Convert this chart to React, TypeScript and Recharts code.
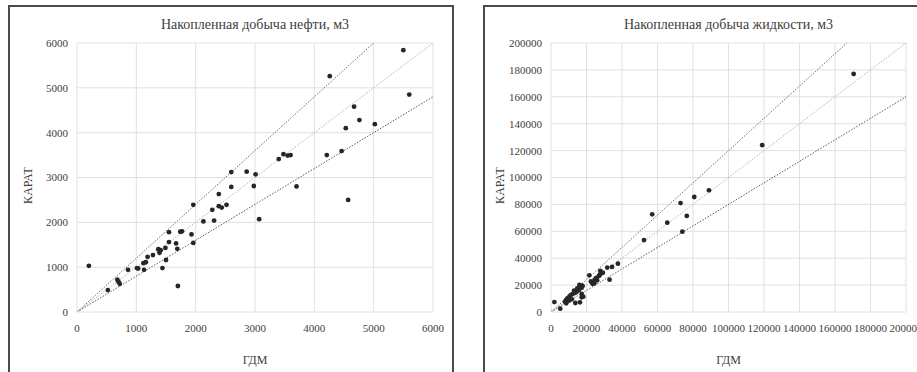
import React from 'react';
import { ScatterChart, Scatter, XAxis, YAxis, CartesianGrid, Label } from 'recharts';

// ---- Oil (нефть) ----
const oilGdm = [5500, 4260, 5600, 4670, 4760, 4530, 5020, 4210, 4460, 3480, 3550, 3600, 3400, 2600, 2860, 3010, 2600, 2980, 3700, 4570, 3070, 1960, 2390, 2280, 2390, 2440, 2520, 2130, 2310, 1550, 1740, 1770, 1930, 1960, 1550, 1670, 1690, 1490, 1370, 1410, 1390, 1280, 1190, 1120, 1160, 1500, 1010, 1030, 1130, 1440, 860, 200, 680, 700, 720, 520, 1700];
const oilKarat = [5840, 5260, 4850, 4580, 4280, 4100, 4190, 3500, 3590, 3520, 3490, 3500, 3410, 3120, 3130, 3070, 2790, 2810, 2800, 2500, 2070, 2390, 2630, 2280, 2360, 2330, 2390, 2020, 2040, 1780, 1790, 1800, 1730, 1540, 1560, 1530, 1410, 1430, 1400, 1380, 1320, 1270, 1230, 1090, 1110, 1160, 980, 970, 940, 980, 940, 1030, 720, 670, 630, 490, 580];

// ---- Liquid (жидкость) ----
const liqGdm = [170500, 119000, 89000, 80700, 73000, 57000, 76500, 65500, 74000, 52400, 37700, 34400, 31700, 33000, 27800, 28200, 27400, 21600, 25500, 26000, 24600, 22500, 23500, 17500, 1900, 5200, 13700, 16300, 16000, 17800, 17300, 14800, 15800, 14500, 13000, 13700, 12200, 11100, 10300, 9200, 8500, 7900, 8600, 10100, 11700, 17300, 18200, 17300, 23100, 24400, 27000, 29200];
const liqKarat = [177000, 124000, 90500, 85500, 81000, 72600, 71400, 66400, 59700, 53500, 35900, 33500, 33000, 24000, 30500, 28800, 27500, 27300, 25300, 23600, 24000, 22800, 21000, 19600, 7400, 2500, 6700, 7200, 20100, 19300, 18100, 17600, 16400, 15100, 15800, 14300, 13400, 12600, 11400, 10200, 8900, 7700, 6500, 8400, 9400, 13400, 11400, 10900, 21800, 21300, 26800, 29200];

// ---- Axis ticks ----
const oilTicks = [0, 1000, 2000, 3000, 4000, 5000, 6000];
const liqTicks = [0, 20000, 40000, 60000, 80000, 100000, 120000, 140000, 160000, 180000, 200000];

// ---- Reference ratio lines (КАРАТ = k·ГДМ) ----
const oilUpperX = [0, 5000];
const oilUpperY = [0, 6000];
const oilMidX = [0, 6000];
const oilMidY = [0, 6000];
const oilLowX = [0, 6000];
const oilLowY = [0, 4800];
const liqUpperX = [0, 166667];
const liqUpperY = [0, 200000];
const liqMidX = [0, 200000];
const liqMidY = [0, 200000];
const liqLowX = [0, 200000];
const liqLowY = [0, 160000];

const originX = [0];
const originY = [0];

const zip = (xs: number[], ys: number[]) => xs.map((x, i) => ({ x, y: ys[i] }));

const FONT = '"Liberation Serif", "DejaVu Serif", "Times New Roman", Times, serif';
const tickStyle = { fontSize: 11, fill: '#404040', fontFamily: FONT };

const dot = (fill: string, r: number) => (props: any) =>
  props.cx == null ? null : <circle cx={props.cx} cy={props.cy} r={r} fill={fill} />;

type PanelProps = {
  pts: { x: number; y: number }[];
  upper: { x: number; y: number }[];
  mid: { x: number; y: number }[];
  low: { x: number; y: number }[];
  ticks: number[];
  max: number;
  width: number;
  yAxisWidth: number;
  rightMargin: number;
  labelX: number;
};

function Panel(p: PanelProps) {
  const origin = zip(originX, originY);
  return (
    <ScatterChart
      width={p.width}
      height={372}
      margin={{ top: 43, right: p.rightMargin, bottom: 0, left: 0 }}
      style={{ fontFamily: FONT }}
    >
      <CartesianGrid stroke="#e0e0e0" strokeWidth={1} />
      <XAxis
        type="number"
        dataKey="x"
        domain={[0, p.max]}
        ticks={p.ticks}
        interval={0}
        allowDataOverflow
        axisLine={false}
        tickLine={false}
        tickSize={0}
        tickMargin={12}
        height={60}
        tick={tickStyle}
      >
        <Label value="ГДМ" position="insideBottom" offset={8} style={{ fontSize: 12, fill: '#404040', fontFamily: FONT }} />
      </XAxis>
      <YAxis
        type="number"
        dataKey="y"
        domain={[0, p.max]}
        ticks={p.ticks}
        interval={0}
        allowDataOverflow
        axisLine={false}
        tickLine={false}
        tickSize={0}
        tickMargin={9}
        width={p.yAxisWidth}
        tick={tickStyle}
      >
        <Label
          value="КАРАТ"
          angle={-90}
          position="insideLeft"
          offset={p.labelX}
          dy={8}
          style={{ fontSize: 12, fill: '#404040', fontFamily: FONT, textAnchor: 'middle' }}
        />
      </YAxis>
      <Scatter data={p.upper} line={{ stroke: '#6e6e6e', strokeWidth: 1, strokeDasharray: '1.5 1.5' }} shape={() => null} isAnimationActive={false} />
      <Scatter data={p.mid} line={{ stroke: '#b5b5b5', strokeWidth: 1, strokeDasharray: '1.5 1.5' }} shape={() => null} isAnimationActive={false} />
      <Scatter data={p.low} line={{ stroke: '#5a5a5a', strokeWidth: 1, strokeDasharray: '1.5 1.5' }} shape={() => null} isAnimationActive={false} />
      <Scatter data={origin} shape={dot('#c8c8c8', 2.3)} isAnimationActive={false} />
      <Scatter data={p.pts} shape={dot('#262626', 2.4)} isAnimationActive={false} />
    </ScatterChart>
  );
}

export default function App() {
  const titleStyle: React.CSSProperties = { position: 'absolute', top: 16, textAlign: 'center', fontFamily: FONT, fontSize: 14, color: '#404040', lineHeight: '18px' };
  return (
    <div style={{ position: 'absolute', left: 0, top: 0, width: 917, height: 372, overflow: 'hidden', background: '#fff' }}>
      <div style={{ position: 'absolute', left: 8, top: 5, width: 442, height: 380, border: '2px solid #4a4a4a' }} />
      <div style={{ position: 'absolute', left: 483, top: 5, width: 460, height: 380, border: '2px solid #4a4a4a' }} />

      <div style={{ position: 'absolute', left: 0, top: 0 }}>
        <Panel
          pts={zip(oilGdm, oilKarat)}
          upper={zip(oilUpperX, oilUpperY)}
          mid={zip(oilMidX, oilMidY)}
          low={zip(oilLowX, oilLowY)}
          ticks={oilTicks}
          max={6000}
          width={455}
          yAxisWidth={77}
          rightMargin={22}
          labelX={28}
        />
      </div>
      <div style={{ position: 'absolute', left: 457, top: 0 }}>
        <Panel
          pts={zip(liqGdm, liqKarat)}
          upper={zip(liqUpperX, liqUpperY)}
          mid={zip(liqMidX, liqMidY)}
          low={zip(liqLowX, liqLowY)}
          ticks={liqTicks}
          max={200000}
          width={460}
          yAxisWidth={94}
          rightMargin={11}
          labelX={43}
        />
      </div>
      <div style={{ ...titleStyle, left: 77, width: 356 }}>Накопленная добыча нефти, м3</div>
      <div style={{ ...titleStyle, left: 551, width: 355 }}>Накопленная добыча жидкости, м3</div>
    </div>
  );
}
